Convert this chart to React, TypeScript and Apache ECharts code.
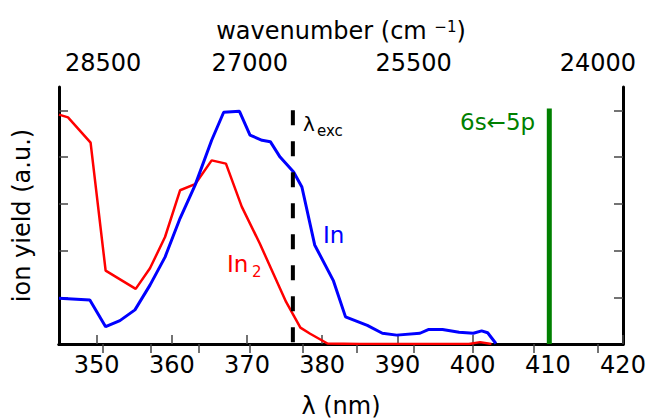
import React, { useEffect, useRef } from "react";
import * as echarts from "echarts";

// In2 ion yield (red)
const redLambda = [345.0, 346.2, 349.2, 351.2, 355.2, 357.1, 359.1, 361.1, 363.1, 365.3, 367.2, 369.3, 371.7, 375.2, 377.1, 378.4, 380.7, 385, 390, 395, 399.5, 401, 402.5];
const redYield = [4.91, 4.85, 4.31, 1.57, 1.18, 1.62, 2.29, 3.29, 3.42, 3.93, 3.86, 2.94, 2.15, 0.9, 0.35, 0.22, 0.01, 0, 0, 0, 0, 0.04, 0];

// In ion yield (blue)
const blueLambda = [345.0, 349.1, 351.2, 353.1, 355.1, 357.1, 359.1, 361.1, 363.1, 365.3, 366.9, 369.0, 370.4, 372.0, 373.1, 374.4, 376.2, 377.3, 379.0, 381.5, 383.1, 386.0, 388.0, 389.9, 393.0, 394.1, 396.0, 398.2, 400.1, 401.2, 402.0, 403.1];
const blueYield = [0.98, 0.94, 0.37, 0.5, 0.73, 1.26, 1.86, 2.69, 3.4, 4.36, 4.96, 4.98, 4.47, 4.36, 4.33, 4.0, 3.68, 3.36, 2.12, 1.35, 0.58, 0.4, 0.23, 0.19, 0.23, 0.31, 0.31, 0.25, 0.23, 0.28, 0.24, 0.01];

const excLambda = 376.1;
const excTop = 5.0;
const atomLambda = 410.2;
const atomTop = 5.04;

const bottomTicks = [350, 360, 370, 380, 390, 400, 410, 420];
const topTickWavenumbers = [28500, 28000, 27500, 27000, 26500, 26000, 25500, 25000, 24500, 24000];
const topLabelWavenumbers = [28500, 27000, 25500, 24000];
const yTicks = [1, 2, 3, 4, 5];

const FONT = "DejaVu Sans";

export default function App() {
  const ref = useRef<HTMLDivElement>(null);
  useEffect(() => {
    document.body.style.margin = "0";
    const chart = echarts.init(ref.current!, null, { renderer: "svg" });
    const frame = { show: true, lineStyle: { color: "#000", width: 3 } };
    const tick = { show: true, inside: true, length: 9, lineStyle: { color: "#444", width: 1.5 } };
    chart.setOption({
      animation: false,
      backgroundColor: "#fff",
      grid: { left: 59, right: 26, top: 87, bottom: 75, containLabel: false, outerBoundsMode: "none" },
      xAxis: [
        {
          type: "value",
          position: "bottom",
          min: 345,
          max: 420,
          axisLine: frame,
          axisTick: { ...tick, customValues: bottomTicks },
          axisLabel: { customValues: bottomTicks, fontSize: 24, fontFamily: FONT, color: "#000", margin: 9 },
          splitLine: { show: false },
          name: "λ (nm)",
          nameLocation: "middle",
          nameGap: 50,
          nameTextStyle: { fontSize: 24, fontFamily: FONT, color: "#000" },
        },
        {
          type: "value",
          position: "top",
          min: 345,
          max: 420,
          axisLine: frame,
          axisTick: { ...tick, customValues: topTickWavenumbers.map((w) => 1e7 / w) },
          axisLabel: {
            customValues: topLabelWavenumbers.map((w) => 1e7 / w),
            formatter: (v: number) => String(Math.round(1e7 / v / 100) * 100),
            fontSize: 24,
            fontFamily: FONT,
            color: "#000",
            margin: 12,
          },
          splitLine: { show: false },
          name: "wavenumber (cm {sup|−1})",
          nameLocation: "middle",
          nameGap: 44,
          nameTextStyle: {
            fontSize: 24,
            fontFamily: FONT,
            color: "#000",
            rich: { sup: { fontSize: 15, fontFamily: FONT, color: "#000", verticalAlign: "top" } },
          },
        },
      ],
      yAxis: [
        {
          type: "value",
          position: "left",
          min: 0,
          max: 5.5,
          axisLine: frame,
          axisTick: { ...tick, customValues: yTicks },
          axisLabel: { show: false },
          splitLine: { show: false },
          name: "ion yield (a.u.)",
          nameLocation: "middle",
          nameGap: 25,
          nameTextStyle: { fontSize: 24, fontFamily: FONT, color: "#000" },
        },
        {
          type: "value",
          position: "right",
          min: 0,
          max: 5.5,
          axisLine: frame,
          axisTick: { ...tick, customValues: yTicks },
          axisLabel: { show: false },
          splitLine: { show: false },
        },
      ],
      series: [
        {
          type: "line",
          name: "In2",
          data: redLambda.map((l, i) => [l, redYield[i]]),
          showSymbol: false,
          lineStyle: { color: "#ff0000", width: 2.5 },
          z: 2,
        },
        {
          type: "line",
          name: "In",
          data: blueLambda.map((l, i) => [l, blueYield[i]]),
          showSymbol: false,
          lineStyle: { color: "#0000ff", width: 3 },
          z: 3,
        },
        {
          type: "line",
          name: "exc",
          data: [[excLambda, excTop], [excLambda, 0]],
          showSymbol: false,
          lineStyle: { color: "#000", width: 4, type: [15, 16] },
          z: 4,
        },
        {
          type: "line",
          name: "atom",
          data: [[atomLambda, 0], [atomLambda, atomTop]],
          showSymbol: false,
          lineStyle: { color: "#008000", width: 5 },
          z: 4,
        },
      ],
      graphic: [
        { type: "text", left: 303, top: 114, style: { text: "λ", font: `20px '${FONT}'`, fill: "#000" } },
        { type: "text", left: 317, top: 123, style: { text: "exc", font: `15px '${FONT}'`, fill: "#000" } },
        { type: "text", left: 323, top: 223, style: { text: "In", font: `23px '${FONT}'`, fill: "#0000ff" } },
        { type: "text", left: 227, top: 252, style: { text: "In", font: `23px '${FONT}'`, fill: "#ff0000" } },
        { type: "text", left: 252, top: 264, style: { text: "2", font: `15px '${FONT}'`, fill: "#ff0000" } },
        { type: "text", left: 460, top: 110, style: { text: "6s←5p", font: `23px '${FONT}'`, fill: "#008000" } },
      ],
    });
    return () => chart.dispose();
  }, []);
  return <div ref={ref} style={{ position: "fixed", left: 0, top: 0, width: 649, height: 419 }} />;
}
